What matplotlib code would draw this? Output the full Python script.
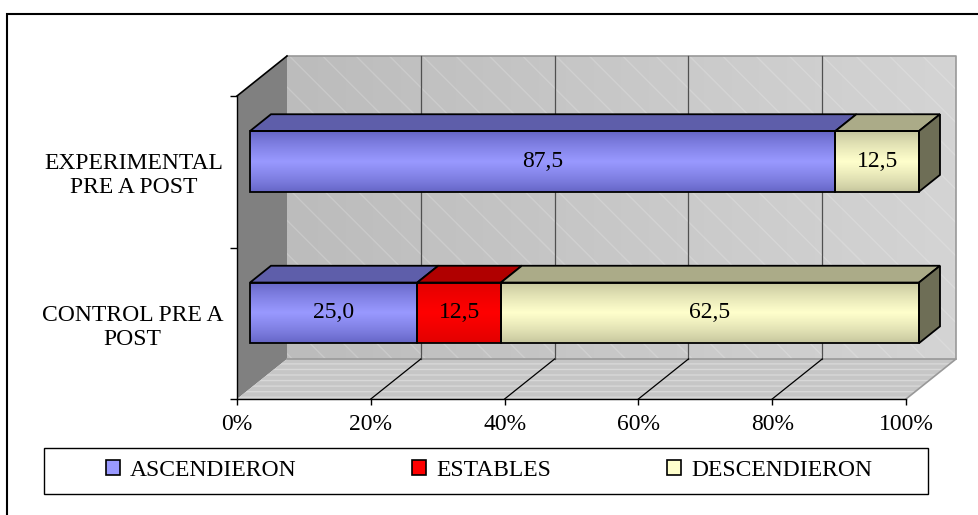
import matplotlib.pyplot as plt
import matplotlib.colors as mcolors
import numpy as np
from matplotlib.patches import Polygon, Patch, Rectangle

# data
categories = ["CONTROL PRE A\nPOST", "EXPERIMENTAL\nPRE A POST"]
series_names = ["ASCENDIERON", "ESTABLES", "DESCENDIERON"]
ascendieron = [25.0, 87.5]
estables = [12.5, 0.0]
descendieron = [62.5, 12.5]
x_ticks = [0, 20, 40, 60, 80, 100]
x_tick_labels = ["0%", "20%", "40%", "60%", "80%", "100%"]

plt.rcParams['font.family'] = ['Liberation Serif', 'DejaVu Serif']
FS = 17
FPX = FS * 100 / 72  # font size in pixels

W, H = 979, 515
fig = plt.figure(figsize=(W / 100, H / 100), dpi=100)
ax = fig.add_axes([237 / W, (H - 399) / H, 669 / W, 303 / H])
ax.patch.set_visible(False)

# pseudo 3d depth (in data units) and bar depth positions
DX = 50 * 100 / 669
DY = 40 / 151.5
F0, F1 = 0.26, 0.68
BH = 0.4
Y0, Y1 = -0.5, 1.5


def vgrad(edge, center, n=80, power=0.8):
    t = np.linspace(0, 1, n)
    w = (1 - np.abs(2 * t - 1)) ** power
    e = np.array(mcolors.to_rgb(edge))
    c = np.array(mcolors.to_rgb(center))
    return (e + (c - e) * w[:, None])[:, None, :]


# back wall with a light horizontal gradient
g = np.linspace(0, 1, 100)
c_l = np.array(mcolors.to_rgb('#BCBCBC'))
c_r = np.array(mcolors.to_rgb('#D4D4D4'))
wall = (c_l + (c_r - c_l) * g[:, None])[None, :, :]
ax.imshow(wall, extent=[DX, 100 + DX, Y0 + DY, Y1 + DY], aspect='auto',
          zorder=0.2, clip_on=False, interpolation='bilinear')
ax.add_patch(Polygon([(DX, Y0 + DY), (100 + DX, Y0 + DY), (100 + DX, Y1 + DY), (DX, Y1 + DY)],
                     fill=False, hatch='\\', edgecolor=(1, 1, 1, 0.18), lw=0, zorder=0.3, clip_on=False))
ax.plot([DX, 100 + DX, 100 + DX], [Y1 + DY, Y1 + DY, Y0 + DY], color='#999999', lw=1.2,
        zorder=0.4, clip_on=False)

# left wall
ax.add_patch(Polygon([(0, Y0), (0, Y1), (DX, Y1 + DY), (DX, Y0 + DY)],
                     facecolor='#808080', edgecolor='none', zorder=0.5, clip_on=False))
ax.plot([0, DX], [Y1, Y1 + DY], color='black', lw=1.2, zorder=0.6, clip_on=False)

# floor
floor = [(0, Y0), (100, Y0), (100 + DX, Y0 + DY), (DX, Y0 + DY)]
ax.add_patch(Polygon(floor, facecolor='#C6C6C6', edgecolor='none', zorder=0.5, clip_on=False))
ax.add_patch(Polygon(floor, fill=False, hatch='---', edgecolor='#D8D8D8', lw=0, zorder=0.55, clip_on=False))
ax.plot([DX, 100 + DX, 100], [Y0 + DY, Y0 + DY, Y0], color='#999999', lw=1.2,
        zorder=0.6, clip_on=False)

# gridlines on wall and floor
for x in x_ticks[1:-1]:
    ax.plot([x + DX, x + DX], [Y0 + DY, Y1 + DY], color='#505050', lw=0.9, zorder=0.7, clip_on=False)
    ax.plot([x, x + DX], [Y0, Y0 + DY], color='black', lw=0.9, zorder=0.7, clip_on=False)

# bars
front_edge = ['#6464C4', '#E00000', '#C4C49C']
front_center = ['#9999FF', '#FF0000', '#FFFFCC']
top_cols = ['#5E5EAA', '#B00000', '#ABAB88']
side_col = '#6E6E56'
values = [ascendieron, estables, descendieron]
ypos = np.arange(len(categories))
left = np.zeros(len(categories))
for s, vals in enumerate(values):
    vals = np.array(vals)
    for i in ypos:
        v = vals[i]
        if v == 0:
            continue
        x0, x1 = left[i], left[i] + v
        yb, yt = i - BH / 2, i + BH / 2
        ax.imshow(vgrad(front_edge[s], front_center[s]),
                  extent=[x0 + F0 * DX, x1 + F0 * DX, yb + F0 * DY, yt + F0 * DY],
                  aspect='auto', zorder=3, clip_on=False, interpolation='bilinear')
        ax.add_patch(Polygon([(x0 + F0 * DX, yt + F0 * DY), (x1 + F0 * DX, yt + F0 * DY),
                              (x1 + F1 * DX, yt + F1 * DY), (x0 + F1 * DX, yt + F1 * DY)],
                             facecolor=top_cols[s], edgecolor='black', lw=1.3, zorder=3.5,
                             clip_on=False, joinstyle='miter'))
        ax.text((x0 + x1) / 2 + F0 * DX, i + F0 * DY, f"{v:.1f}".replace('.', ','),
                ha='center', va='center', fontsize=FS, zorder=6)
    ax.barh(ypos + F0 * DY, vals, left=left + F0 * DX, height=BH, fill=False,
            edgecolor='black', lw=1.3, zorder=4, clip_on=False)
    left += vals

# right side faces
for i in ypos:
    xe = left[i]
    yb, yt = i - BH / 2, i + BH / 2
    ax.add_patch(Polygon([(xe + F0 * DX, yb + F0 * DY), (xe + F0 * DX, yt + F0 * DY),
                          (xe + F1 * DX, yt + F1 * DY), (xe + F1 * DX, yb + F1 * DY)],
                         facecolor=side_col, edgecolor='black', lw=1.3, zorder=3.5,
                         clip_on=False, joinstyle='miter'))

ax.set_xlim(0, 100)
ax.set_ylim(Y0, Y1)

# axes
for side in ['top', 'right']:
    ax.spines[side].set_visible(False)
for side in ['left', 'bottom']:
    ax.spines[side].set_linewidth(1.0)
    ax.spines[side].set_zorder(2.5)
ax.set_xticks(x_ticks)
ax.set_xticklabels(x_tick_labels)
ax.tick_params(axis='x', direction='out', length=4, width=1, labelsize=FS, pad=7)
ax.set_yticks(ypos)
ax.set_yticklabels(categories)
ax.set_yticks([-0.5, 0.5, 1.5], minor=True)
ax.tick_params(axis='y', which='major', length=0, labelsize=FS, pad=10)
ax.tick_params(axis='y', which='minor', direction='out', length=5, width=1)
for lab in ax.get_yticklabels():
    lab.set_multialignment('center')

# legend
handles = [Patch(facecolor=c, edgecolor='black', lw=1.2) for c in front_center]
fig.legend(handles, series_names, loc='center', bbox_to_anchor=(489 / W, (H - 470) / H),
           ncol=3, frameon=False, fontsize=FS, columnspacing=116 / FPX,
           handlelength=14 / FPX, handleheight=14 / FPX, handletextpad=10 / FPX)
fig.add_artist(Rectangle((44 / W, (H - 494) / H), 884 / W, 46 / H, transform=fig.transFigure,
                         fill=False, edgecolor='black', lw=1.0))

# outer chart border (right and bottom are cut off in the reference)
fig.add_artist(Rectangle((7.5 / W, -0.2), 2, (H - 14) / H + 0.2, transform=fig.transFigure,
                         fill=False, edgecolor='black', lw=1.5))

fig.savefig('out.png', dpi=100)
